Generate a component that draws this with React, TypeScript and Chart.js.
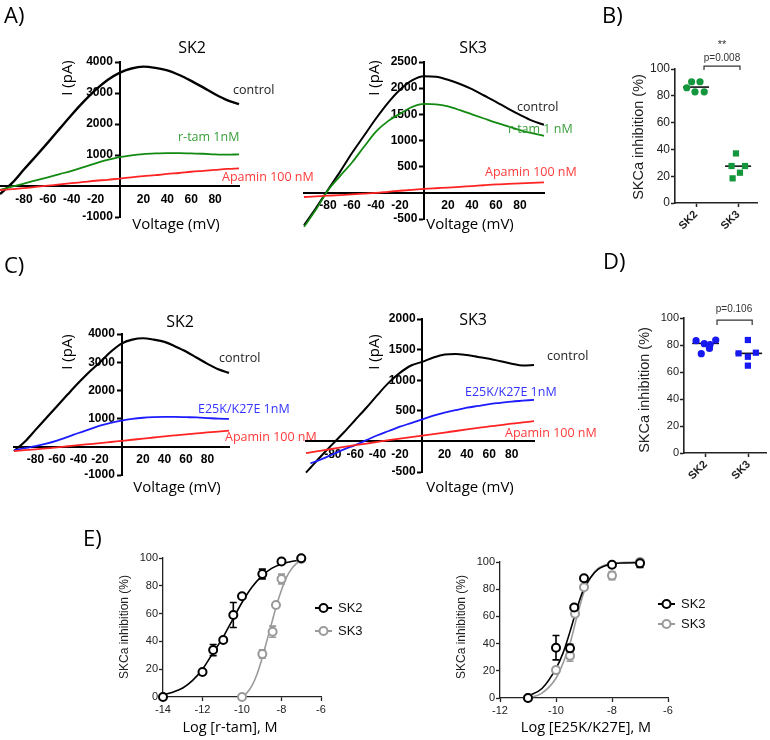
import React, { useEffect, useRef } from "react";
import { Chart, registerables } from "chart.js";

Chart.register(...registerables);

const W = 770;
const H = 740;

// ---------------- Panels A & C : current-voltage traces ----------------
const voltages = [-100, -90, -80, -70, -60, -50, -40, -30, -20, -10, 0, 10, 20, 30, 40, 50, 60, 70, 80, 90, 100];

const aSk2Control = [-260, 90, 530, 960, 1400, 1850, 2300, 2720, 3100, 3420, 3650, 3790, 3850, 3810, 3730, 3580, 3390, 3180, 2960, 2770, 2640];
const aSk2Rtam = [-130, -20, 80, 180, 280, 385, 490, 610, 730, 840, 930, 990, 1030, 1050, 1060, 1060, 1050, 1040, 1020, 1010, 1020];
const aSk2Apamin = [-130, -100, -70, -30, 10, 50, 90, 130, 170, 200, 240, 280, 320, 350, 390, 420, 460, 490, 520, 550, 570];

const aSk3Control = [-620, -290, 60, 400, 760, 1090, 1420, 1720, 1970, 2150, 2230, 2220, 2160, 2080, 1980, 1860, 1740, 1610, 1490, 1380, 1300];
const aSk3Rtam = [-650, -320, 50, 320, 580, 880, 1170, 1370, 1510, 1640, 1700, 1690, 1650, 1580, 1500, 1420, 1340, 1270, 1200, 1140, 1090];
const aSk3Apamin = [-80, -68, -55, -42, -30, -15, 0, 20, 40, 58, 75, 88, 100, 115, 130, 145, 160, 170, 180, 190, 200];

const cSk2Control = [-150, 180, 600, 1020, 1440, 1860, 2270, 2650, 3000, 3370, 3660, 3800, 3850, 3800, 3720, 3560, 3380, 3160, 2940, 2750, 2620];
const cSk2E25k = [-120, -50, 20, 110, 220, 350, 490, 620, 750, 850, 930, 990, 1030, 1050, 1060, 1060, 1050, 1040, 1020, 1000, 990];
const cSk2Apamin = [-150, -120, -90, -55, -20, 20, 60, 95, 130, 170, 210, 250, 290, 330, 370, 405, 440, 475, 510, 540, 570];

const cSk3Voltages = [-104, -100, -90, -80, -70, -60, -50, -40, -30, -20, -10, 0, 10, 20, 30, 40, 50, 60, 70, 80, 90, 100];
const cSk3Control = [-510, -430, -230, -40, 150, 350, 550, 760, 960, 1120, 1240, 1300, 1370, 1420, 1430, 1410, 1380, 1350, 1310, 1270, 1240, 1250];
const cSk3E25k = [null, -360, -290, -210, -130, -60, 20, 100, 170, 240, 300, 360, 420, 470, 510, 550, 580, 610, 630, 650, 665, 680];
const cSk3Apamin = [-190, -180, -150, -120, -90, -62, -35, -8, 20, 45, 70, 95, 120, 145, 170, 195, 220, 245, 265, 290, 310, 330];

const ivVoltageTicks = [-80, -60, -40, -20, 20, 40, 60, 80];
const sk2CurrentTicks = [-1000, 1000, 2000, 3000, 4000];
const aSk3CurrentTicks = [-500, 500, 1000, 1500, 2000, 2500];
const cSk3CurrentTicks = [-500, 500, 1000, 1500, 2000];

// ---------------- Panels B & D : % inhibition scatter ----------------
const groupLabels = ["SK2", "SK3"];
const bSk2Values = [90.5, 90.5, 86, 83, 83];
const bSk2Jitter = [-0.21, 0.19, -0.44, -0.05, 0.39];
const bSk3Values = [37, 27.6, 27.6, 22.6, 18.4];
const bSk3Jitter = [-0.1, -0.31, 0.33, 0.09, -0.26];
const bMeans = [86.5, 27.5];

const dSk2Values = [83.2, 81, 80.3, 83.7, 73.6, 77.5];
const dSk2Jitter = [-0.44, -0.06, 0.21, 0.47, -0.2, 0.18];
const dSk3Values = [83.7, 73.8, 74.3, 71.3, 64.7];
const dSk3Jitter = [-0.04, -0.47, 0.33, -0.04, -0.04];
const dMeans = [81.2, 73.8];

const percentTicks = [0, 20, 40, 60, 80, 100];

// ---------------- Panel E : concentration-response ----------------
const eLeftSk2LogC = [-14, -12, -11.46, -10.95, -10.44, -10, -8.97, -8, -7];
const eLeftSk2Inh = [0, 18, 33.8, 41, 59, 72.5, 88.5, 97.5, 99.8];
const eLeftSk2Sem = [0, 1, 4, 1, 9, 1, 3.5, 2, 1];
const eLeftSk3LogC = [-10, -8.97, -8.45, -8.28, -8, -7];
const eLeftSk3Inh = [0, 30.9, 47, 66.2, 84.9, 99.3];
const eLeftSk3Sem = [0, 3, 4, 1, 3.5, 1];
const eLeftSk2FitX = [-14, -13.5, -13, -12.5, -12, -11.5, -11, -10.5, -10, -9.5, -9, -8.5, -8, -7.5, -7];
const eLeftSk2FitY = [1.5, 3.5, 6.5, 12, 20, 31, 42, 55, 68, 79, 87, 92.5, 95.7, 97.5, 98.5];
const eLeftSk3FitX = [-10, -9.75, -9.5, -9.25, -9, -8.75, -8.5, -8.25, -8, -7.75, -7.5, -7.25, -7];
const eLeftSk3FitY = [0, 3, 8, 16, 27, 40, 53, 66, 77, 86, 92, 96, 98];

const eRightSk2LogC = [-11, -10, -9.5, -9.35, -9, -8, -7];
const eRightSk2Inh = [0, 37, 36.5, 66.5, 88, 98, 99];
const eRightSk2Sem = [0, 9, 3, 1, 1.5, 1, 3];
const eRightSk3LogC = [-11, -10, -9.5, -9.32, -9, -8, -7];
const eRightSk3Inh = [0, 20.5, 31, 62, 81.5, 90, 100];
const eRightSk3Sem = [0, 2, 4, 2, 1.5, 3, 1];
const eRightFitX = [-11, -10.5, -10, -9.75, -9.5, -9.25, -9, -8.75, -8.5, -8, -7.5, -7];
const eRightSk2FitY = [1.5, 7, 21.8, 33, 48.8, 66, 80.6, 89, 94.6, 98.5, 99.3, 99.5];
const eRightSk3FitY = [0, 3.6, 14.5, 25.5, 40, 60, 78, 89, 95.3, 99, 99.7, 100];

const eLeftTicks = [-14, -12, -10, -8, -6];
const eRightTicks = [-12, -10, -8, -6];

// ---------------- styling ----------------
const SANS = "'Open Sans', sans-serif";
const ARIAL = "'Liberation Sans', Arial, sans-serif";
const GREEN_LINE = "#128a12";
const GREEN_TEXT = "#3a9e3a";
const RED = "#ff2424";
const RED_TEXT = "#ff3a3a";
const BLUE = "#1c1cff";
const BLUE_TEXT = "#3434ff";
const DOT_GREEN = "#14963c";
const DOT_BLUE = "#1818f0";
const GREY = "#9a9a9a";

type Area = { l: number; t: number; r: number; b: number };
type Txt = { s: string; x: number; y: number; size: number; family?: string; weight?: string; color?: string; align?: CanvasTextAlign; rot?: number };

function textPlugin(items: Txt[]) {
  return {
    id: "pageText",
    afterDraw(chart: any) {
      const ctx = chart.ctx as CanvasRenderingContext2D;
      for (const t of items) {
        ctx.save();
        ctx.font = `${t.weight || "normal"} ${t.size}px ${t.family || SANS}`;
        ctx.fillStyle = t.color || "#000";
        ctx.textAlign = t.align || "left";
        ctx.textBaseline = "middle";
        ctx.translate(t.x, t.y);
        if (t.rot) ctx.rotate(t.rot);
        ctx.fillText(t.s, 0, 0);
        ctx.restore();
      }
    },
  };
}

function bracketPlugin(x1: number, x2: number, top: number, drop: number) {
  return {
    id: "bracket",
    afterDatasetsDraw(chart: any) {
      const { ctx, scales } = chart;
      const px1 = scales.x.getPixelForValue(x1);
      const px2 = scales.x.getPixelForValue(x2);
      const pt = scales.y.getPixelForValue(top);
      const pb = scales.y.getPixelForValue(top - drop);
      ctx.save();
      ctx.strokeStyle = "#333";
      ctx.lineWidth = 1.2;
      ctx.beginPath();
      ctx.moveTo(px1, pb);
      ctx.lineTo(px1, pt);
      ctx.lineTo(px2, pt);
      ctx.lineTo(px2, pb);
      ctx.stroke();
      ctx.restore();
    },
  };
}

function errorBarPlugin(sets: { xs: number[]; ys: number[]; errs: number[]; color: string }[]) {
  return {
    id: "errorBars",
    beforeDatasetsDraw(chart: any) {
      const { ctx, scales } = chart;
      ctx.save();
      ctx.lineWidth = 1.6;
      for (const s of sets) {
        ctx.strokeStyle = s.color;
        s.xs.forEach((xv, i) => {
          const e = s.errs[i];
          if (!e) return;
          const px = scales.x.getPixelForValue(xv);
          const y1 = scales.y.getPixelForValue(s.ys[i] - e);
          const y2 = scales.y.getPixelForValue(s.ys[i] + e);
          ctx.beginPath();
          ctx.moveTo(px, y1);
          ctx.lineTo(px, y2);
          ctx.moveTo(px - 3.5, y1);
          ctx.lineTo(px + 3.5, y1);
          ctx.moveTo(px - 3.5, y2);
          ctx.lineTo(px + 3.5, y2);
          ctx.stroke();
        });
      }
      ctx.restore();
    },
  };
}

function legendPlugin(items: { label: string; color: string; x: number; y: number }[]) {
  return {
    id: "eLegend",
    afterDraw(chart: any) {
      const ctx = chart.ctx as CanvasRenderingContext2D;
      for (const it of items) {
        ctx.save();
        ctx.strokeStyle = it.color;
        ctx.lineWidth = 2;
        ctx.beginPath();
        ctx.moveTo(it.x, it.y);
        ctx.lineTo(it.x + 17, it.y);
        ctx.stroke();
        ctx.beginPath();
        ctx.arc(it.x + 8.5, it.y, 4, 0, Math.PI * 2);
        ctx.fillStyle = "#fff";
        ctx.fill();
        ctx.stroke();
        ctx.fillStyle = "#111";
        ctx.font = `13px ${ARIAL}`;
        ctx.textBaseline = "middle";
        ctx.fillText(it.label, it.x + 23, it.y);
        ctx.restore();
      }
    },
  };
}

// axes that cross inside the plot take no layout room
const zeroFit = (s: any) => {
  if (s.isHorizontal()) s.height = 0;
  else s.width = 0;
  s.paddingLeft = 0;
  s.paddingRight = 0;
  s.paddingTop = 0;
  s.paddingBottom = 0;
};

// edge axes get a fixed room (their labels are clipped to it)
const YW = 40;
const XH = 34;
const edgeFit = (s: any) => {
  if (s.isHorizontal()) s.height = XH;
  else s.width = YW;
  s.paddingLeft = 0;
  s.paddingRight = 0;
  s.paddingTop = 0;
  s.paddingBottom = 0;
};

function baseOptions(area: Area, scales: any, edge: boolean) {
  const dl = edge ? YW : 0;
  const db = edge ? XH : 0;
  return {
    animation: false,
    responsive: false,
    maintainAspectRatio: false,
    events: [],
    layout: { padding: { left: area.l - dl, top: area.t, right: W - area.r, bottom: H - area.b - db }, autoPadding: false },
    plugins: { legend: { display: false }, tooltip: { enabled: false }, title: { display: false } },
    scales,
  };
}

function fixedTicks(values: number[]) {
  return (s: any) => {
    s.ticks = values.map((v) => ({ value: v }));
  };
}

const ivFont = { family: ARIAL, size: 12, weight: "bold" };

function ivConfig(area: Area, xMin: number, xMax: number, yMin: number, yMax: number, yTicks: number[], xs: number[], lines: { ys: (number | null)[]; color: string; width: number }[], texts: Txt[]) {
  return {
    type: "scatter",
    data: {
      datasets: lines.map((l) => ({
        data: xs.map((x, i) => ({ x, y: l.ys[i] })),
        showLine: true,
        borderColor: l.color,
        borderWidth: l.width,
        pointRadius: 0,
        pointHoverRadius: 0,
        cubicInterpolationMode: "monotone",
        clip: false,
      })),
    },
    options: baseOptions(area, {
      x: {
        type: "linear",
        position: { y: 0 },
        min: xMin,
        max: xMax,
        afterBuildTicks: fixedTicks(ivVoltageTicks),
        afterFit: zeroFit,
        grid: { display: false, drawTicks: false, drawOnChartArea: false },
        border: { display: true, color: "#000", width: 2 },
        ticks: { font: ivFont, color: "#000", padding: 6, autoSkip: false, maxRotation: 0, minRotation: 0, callback: (v: any) => String(v) },
      },
      y: {
        type: "linear",
        position: { x: 0 },
        min: yMin,
        max: yMax,
        afterBuildTicks: fixedTicks(yTicks),
        afterFit: zeroFit,
        grid: { display: true, drawOnChartArea: false, drawTicks: true, tickLength: 4, tickWidth: 2, tickColor: "#000" },
        border: { display: true, color: "#000", width: 2 },
        ticks: { font: ivFont, color: "#000", padding: 0, autoSkip: false, callback: (v: any) => `${v}  ` },
      },
    }, false),
    plugins: [textPlugin(texts)],
  };
}

function groupConfig(area: Area, xMax: number, sets: { vals: number[]; jit: number[]; style: string; color: string; radius: number }[], means: number[], tickSize: number, bracket: [number, number, number, number], texts: Txt[]) {
  const datasets: any[] = [];
  sets.forEach((s, g) => {
    datasets.push({
      data: s.vals.map((v, i) => ({ x: 1 + 2 * g + s.jit[i], y: v })),
      showLine: false,
      pointStyle: s.style,
      pointRadius: s.radius,
      pointHoverRadius: s.radius,
      backgroundColor: s.color,
      borderColor: s.color,
      borderWidth: 0,
    });
  });
  means.forEach((m, g) => {
    datasets.push({
      data: [
        { x: 1 + 2 * g - 0.62, y: m },
        { x: 1 + 2 * g + 0.62, y: m },
      ],
      showLine: true,
      borderColor: "#111",
      borderWidth: 1.6,
      pointRadius: 0,
    });
  });
  return {
    type: "scatter",
    data: { datasets },
    options: baseOptions(area, {
      x: {
        type: "linear",
        position: "bottom",
        min: 0,
        max: xMax,
        afterBuildTicks: fixedTicks([1, 3]),
        afterFit: edgeFit,
        grid: { display: true, drawOnChartArea: false, drawTicks: true, tickLength: 4, tickWidth: 1.5, tickColor: "#222" },
        border: { display: true, color: "#222", width: 1.6 },
        ticks: { font: { family: ARIAL, size: 11, weight: "bold" }, color: "#222", padding: 1, autoSkip: false, maxRotation: 45, minRotation: 45, callback: (v: any) => groupLabels[(Number(v) - 1) / 2] },
      },
      y: {
        type: "linear",
        position: "left",
        min: 0,
        max: 100,
        afterBuildTicks: fixedTicks(percentTicks),
        afterFit: edgeFit,
        grid: { display: true, drawOnChartArea: false, drawTicks: true, tickLength: 4, tickWidth: 1.5, tickColor: "#222" },
        border: { display: true, color: "#222", width: 1.6 },
        ticks: { font: { family: ARIAL, size: tickSize }, color: "#222", padding: 1, autoSkip: false, callback: (v: any) => String(v) },
      },
    }, true),
    plugins: [bracketPlugin(bracket[0], bracket[1], bracket[2], bracket[3]), textPlugin(texts)],
  };
}

function doseConfig(area: Area, xMin: number, xTicks: number[], pts: { xs: number[]; ys: number[]; errs: number[]; color: string }[], fits: { xs: number[]; ys: number[]; color: string }[], legend: { label: string; color: string; x: number; y: number }[], texts: Txt[]) {
  const datasets: any[] = [];
  pts.forEach((p) => {
    datasets.push({
      data: p.xs.map((x, i) => ({ x, y: p.ys[i] })),
      showLine: false,
      pointStyle: "circle",
      pointRadius: 4,
      pointHoverRadius: 4,
      borderWidth: 2,
      borderColor: p.color,
      backgroundColor: "#fff",
      clip: false,
    });
  });
  fits.forEach((f) => {
    datasets.push({
      data: f.xs.map((x, i) => ({ x, y: f.ys[i] })),
      showLine: true,
      borderColor: f.color,
      borderWidth: 1.6,
      pointRadius: 0,
      cubicInterpolationMode: "monotone",
      clip: false,
    });
  });
  return {
    type: "scatter",
    data: { datasets },
    options: baseOptions(area, {
      x: {
        type: "linear",
        position: "bottom",
        min: xMin,
        max: -6,
        afterBuildTicks: fixedTicks(xTicks),
        afterFit: edgeFit,
        grid: { display: true, drawOnChartArea: false, drawTicks: true, tickLength: 4, tickWidth: 1.3, tickColor: "#222" },
        border: { display: true, color: "#222", width: 1.3 },
        ticks: { font: { family: ARIAL, size: 11 }, color: "#222", padding: 2, autoSkip: false, maxRotation: 0, minRotation: 0, callback: (v: any) => String(v) },
      },
      y: {
        type: "linear",
        position: "left",
        min: 0,
        max: 100,
        afterBuildTicks: fixedTicks(percentTicks),
        afterFit: edgeFit,
        grid: { display: true, drawOnChartArea: false, drawTicks: true, tickLength: 4, tickWidth: 1.3, tickColor: "#222" },
        border: { display: true, color: "#222", width: 1.3 },
        ticks: { font: { family: ARIAL, size: 11 }, color: "#222", padding: 1, autoSkip: false, callback: (v: any) => String(v) },
      },
    }, true),
    plugins: [errorBarPlugin(pts), legendPlugin(legend), textPlugin(texts)],
  };
}

const UP = -Math.PI / 2;

const configs: any[] = [
  // A - SK2
  ivConfig({ l: 0, t: 62, r: 239, b: 217 }, -100, 100, -1000, 4000, sk2CurrentTicks, voltages,
    [
      { ys: aSk2Apamin, color: RED, width: 1.8 },
      { ys: aSk2Rtam, color: GREEN_LINE, width: 1.8 },
      { ys: aSk2Control, color: "#000", width: 2.4 },
    ],
    [
      { s: "A)", x: 4, y: 17, size: 22 },
      { s: "SK2", x: 192, y: 48, size: 16, align: "center" },
      { s: "I (pA)", x: 68, y: 78, size: 15, align: "center", rot: UP },
      { s: "Voltage (mV)", x: 176, y: 225, size: 15, align: "center" },
      { s: "control", x: 233, y: 90, size: 12.5, color: "#222" },
      { s: "r-tam 1nM", x: 178, y: 137, size: 12.5, color: GREEN_TEXT },
      { s: "Apamin 100 nM", x: 222, y: 177, size: 12.5, color: RED_TEXT },
    ]),
  // A - SK3
  ivConfig({ l: 304, t: 62, r: 544, b: 219 }, -100, 100, -500, 2500, aSk3CurrentTicks, voltages,
    [
      { ys: aSk3Apamin, color: RED, width: 1.8 },
      { ys: aSk3Rtam, color: GREEN_LINE, width: 1.8 },
      { ys: aSk3Control, color: "#000", width: 2 },
    ],
    [
      { s: "SK3", x: 473, y: 48, size: 16, align: "center" },
      { s: "I (pA)", x: 375, y: 78, size: 15, align: "center", rot: UP },
      { s: "Voltage (mV)", x: 470, y: 225, size: 15, align: "center" },
      { s: "control", x: 517, y: 107, size: 12.5, color: "#222" },
      { s: "r-tam 1 nM", x: 508, y: 129, size: 12.5, color: GREEN_TEXT },
      { s: "Apamin 100 nM", x: 485, y: 172, size: 12.5, color: RED_TEXT },
    ]),
  // B
  groupConfig({ l: 675, t: 69, r: 757, b: 203 }, 3.9,
    [
      { vals: bSk2Values, jit: bSk2Jitter, style: "circle", color: DOT_GREEN, radius: 3.6 },
      { vals: bSk3Values, jit: bSk3Jitter, style: "rect", color: DOT_GREEN, radius: 4.4 },
    ],
    bMeans, 12, [1.38, 3.09, 102.2, 2.9],
    [
      { s: "B)", x: 602, y: 17, size: 22 },
      { s: "SKCa inhibition (%)", x: 639, y: 137, size: 14.5, family: ARIAL, align: "center", rot: UP, color: "#222" },
      { s: "p=0.008", x: 722, y: 58, size: 10, family: ARIAL, align: "center", color: "#333" },
      { s: "**", x: 722, y: 45, size: 11, family: ARIAL, align: "center", color: "#333" },
    ]),
  // C - SK2
  ivConfig({ l: 14, t: 334, r: 229, b: 475 }, -100, 100, -1000, 4000, sk2CurrentTicks, voltages,
    [
      { ys: cSk2Apamin, color: RED, width: 1.8 },
      { ys: cSk2E25k, color: BLUE, width: 1.8 },
      { ys: cSk2Control, color: "#000", width: 2.2 },
    ],
    [
      { s: "C)", x: 4, y: 267, size: 22 },
      { s: "SK2", x: 180, y: 322, size: 16, align: "center" },
      { s: "I (pA)", x: 68, y: 352, size: 15, align: "center", rot: UP },
      { s: "Voltage (mV)", x: 177, y: 488, size: 15, align: "center" },
      { s: "control", x: 219, y: 358, size: 12.5, color: "#222" },
      { s: "E25K/K27E 1nM", x: 198, y: 409, size: 12.5, color: BLUE_TEXT },
      { s: "Apamin 100 nM", x: 225, y: 437, size: 12.5, color: RED_TEXT },
    ]),
  // C - SK3
  ivConfig({ l: 306, t: 319, r: 534, b: 472 }, -104, 100, -500, 2000, cSk3CurrentTicks, cSk3Voltages,
    [
      { ys: cSk3Apamin, color: RED, width: 1.8 },
      { ys: cSk3E25k, color: BLUE, width: 1.8 },
      { ys: cSk3Control, color: "#000", width: 2 },
    ],
    [
      { s: "SK3", x: 473, y: 320, size: 16, align: "center" },
      { s: "I (pA)", x: 375, y: 352, size: 15, align: "center", rot: UP },
      { s: "Voltage (mV)", x: 470, y: 488, size: 15, align: "center" },
      { s: "control", x: 547, y: 356, size: 12.5, color: "#222" },
      { s: "E25K/K27E 1nM", x: 465, y: 392, size: 12.5, color: BLUE_TEXT },
      { s: "Apamin 100 nM", x: 505, y: 433, size: 12.5, color: RED_TEXT },
    ]),
  // D
  groupConfig({ l: 684, t: 318, r: 766, b: 453 }, 3.8,
    [
      { vals: dSk2Values, jit: dSk2Jitter, style: "circle", color: DOT_BLUE, radius: 3.6 },
      { vals: dSk3Values, jit: dSk3Jitter, style: "rect", color: DOT_BLUE, radius: 4.4 },
    ],
    dMeans, 11, [1.53, 3.16, 98.5, 3.7],
    [
      { s: "D)", x: 603, y: 263, size: 22 },
      { s: "SKCa inhibition (%)", x: 645, y: 390, size: 14.5, family: ARIAL, align: "center", rot: UP, color: "#222" },
      { s: "p=0.106", x: 734, y: 309, size: 10, family: ARIAL, align: "center", color: "#333" },
    ]),
  // E - left (r-tam)
  doseConfig({ l: 163, t: 558, r: 321, b: 697 }, -14, eLeftTicks,
    [
      { xs: eLeftSk2LogC, ys: eLeftSk2Inh, errs: eLeftSk2Sem, color: "#000" },
      { xs: eLeftSk3LogC, ys: eLeftSk3Inh, errs: eLeftSk3Sem, color: GREY },
    ],
    [
      { xs: eLeftSk2FitX, ys: eLeftSk2FitY, color: "#000" },
      { xs: eLeftSk3FitX, ys: eLeftSk3FitY, color: GREY },
    ],
    [
      { label: "SK2", color: "#000", x: 315, y: 608 },
      { label: "SK3", color: GREY, x: 315, y: 631 },
    ],
    [
      { s: "E)", x: 83, y: 540, size: 22 },
      { s: "SKCa inhibition (%)", x: 125, y: 627, size: 12, family: ARIAL, align: "center", rot: UP, color: "#222" },
      { s: "Log [r-tam], M", x: 230, y: 728, size: 14.5, align: "center" },
    ]),
  // E - right (E25K/K27E)
  doseConfig({ l: 500, t: 562, r: 668, b: 698 }, -12, eRightTicks,
    [
      { xs: eRightSk2LogC, ys: eRightSk2Inh, errs: eRightSk2Sem, color: "#000" },
      { xs: eRightSk3LogC, ys: eRightSk3Inh, errs: eRightSk3Sem, color: GREY },
    ],
    [
      { xs: eRightFitX, ys: eRightSk2FitY, color: "#000" },
      { xs: eRightFitX, ys: eRightSk3FitY, color: GREY },
    ],
    [
      { label: "SK2", color: "#000", x: 658, y: 604 },
      { label: "SK3", color: GREY, x: 658, y: 624 },
    ],
    [
      { s: "SKCa inhibition (%)", x: 462, y: 627, size: 12, family: ARIAL, align: "center", rot: UP, color: "#222" },
      { s: "Log [E25K/K27E], M", x: 586, y: 728, size: 14.5, align: "center" },
    ]),
];

function ChartLayer({ config }: { config: any }) {
  const ref = useRef<HTMLCanvasElement>(null);
  useEffect(() => {
    if (!ref.current) return;
    const chart = new Chart(ref.current, config);
    return () => chart.destroy();
  }, [config]);
  return <canvas ref={ref} width={W} height={H} style={{ position: "absolute", left: 0, top: 0, width: W, height: H }} />;
}

export default function App() {
  return (
    <div style={{ position: "fixed", left: 0, top: 0, width: W, height: H, background: "#fff", overflow: "hidden" }}>
      {configs.map((c, i) => (
        <ChartLayer key={i} config={c} />
      ))}
    </div>
  );
}
